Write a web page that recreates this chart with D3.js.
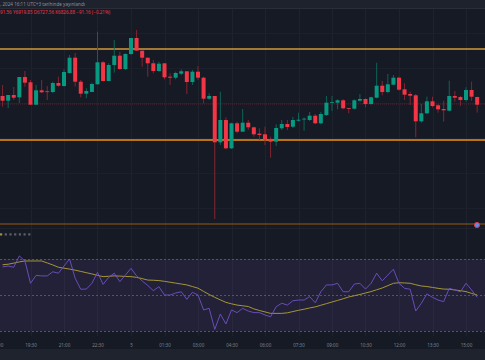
<!doctype html>
<html lang="tr">
<head>
<meta charset="utf-8">
<title>15 dk mum grafiği</title>
<script src="https://cdn.jsdelivr.net/npm/d3@7"></script>
<style>
	body { margin: 0; background: #161a25; }
	svg { display: block; font-family: "Noto Sans", Roboto, sans-serif; }
</style>
</head>
<body>
<div id="chart"></div>
<script>
// 15 minute candles, first one at 18:15
const opens = [
	6904.0, 6899.3, 6905.0, 6902.7, 6923.0, 6917.7, 6895.3, 6909.7, 6908.7, 6908.0,
	6917.0, 6914.0, 6927.0, 6942.3, 6918.3, 6906.3, 6908.0, 6915.7, 6937.7, 6919.0,
	6935.0, 6944.3, 6931.0, 6946.0, 6962.0, 6949.3, 6942.3, 6936.7, 6929.0, 6936.7,
	6923.3, 6922.3, 6926.3, 6928.7, 6918.0, 6928.3, 6922.3, 6901.3, 6904.0, 6857.7,
	6880.0, 6851.7, 6876.7, 6868.3, 6877.3, 6872.7, 6866.3, 6865.7, 6861.0, 6858.3,
	6871.7, 6876.0, 6873.3, 6879.3, 6880.7, 6880.0, 6884.3, 6876.7, 6885.0, 6897.3,
	6897.3, 6899.7, 6892.0, 6891.3, 6899.3, 6901.0, 6896.0, 6902.3, 6914.3, 6908.0,
	6915.3, 6922.3, 6910.7, 6906.0, 6904.7, 6878.7, 6886.7, 6898.7, 6894.7, 6891.0,
	6889.3, 6904.0, 6903.0, 6900.0, 6910.0, 6903.0
];
const highs = [
	6915.0, 6905.0, 6913.0, 6923.0, 6929.0, 6920.0, 6915.0, 6920.0, 6914.0, 6918.3,
	6923.3, 6930.7, 6945.0, 6947.0, 6920.0, 6911.7, 6917.3, 6968.3, 6939.0, 6936.7,
	6960.0, 6948.3, 6946.7, 6962.0, 6970.0, 6949.3, 6942.3, 6940.0, 6938.3, 6936.7,
	6926.7, 6928.3, 6930.7, 6928.7, 6930.0, 6934.0, 6923.3, 6906.7, 6904.0, 6908.3,
	6882.7, 6877.3, 6878.3, 6891.0, 6880.0, 6873.3, 6871.7, 6873.3, 6863.3, 6875.7,
	6880.0, 6880.0, 6883.0, 6887.3, 6882.7, 6888.0, 6886.0, 6888.0, 6904.0, 6904.0,
	6900.7, 6900.7, 6892.0, 6900.7, 6906.0, 6901.7, 6903.3, 6937.3, 6919.0, 6926.0,
	6925.0, 6923.3, 6916.7, 6908.3, 6906.0, 6896.0, 6903.3, 6903.3, 6896.0, 6899.3,
	6919.3, 6909.0, 6904.0, 6912.7, 6918.3, 6903.3
];
const lows = [
	6893.3, 6892.0, 6900.0, 6897.0, 6913.3, 6895.0, 6895.0, 6907.0, 6900.0, 6906.7,
	6913.3, 6913.3, 6926.7, 6913.3, 6902.7, 6901.7, 6908.0, 6915.7, 6918.3, 6919.0,
	6927.3, 6930.0, 6930.0, 6945.0, 6949.3, 6933.3, 6923.3, 6926.7, 6928.3, 6920.7,
	6915.0, 6920.7, 6925.0, 6906.0, 6915.0, 6920.0, 6896.7, 6900.0, 6781.0, 6855.0,
	6850.7, 6851.0, 6866.7, 6868.3, 6870.0, 6863.3, 6860.0, 6855.0, 6842.3, 6854.0,
	6870.0, 6870.0, 6872.0, 6878.3, 6869.3, 6879.0, 6876.0, 6875.7, 6884.0, 6889.0,
	6890.7, 6890.7, 6886.7, 6890.7, 6898.3, 6892.7, 6895.3, 6901.7, 6904.7, 6906.7,
	6914.7, 6909.3, 6900.0, 6895.0, 6862.7, 6877.3, 6886.0, 6892.7, 6887.3, 6878.3,
	6888.7, 6898.3, 6894.0, 6898.3, 6899.3, 6887.3
];
const closes = [
	6899.3, 6905.0, 6902.3, 6923.0, 6917.3, 6895.3, 6909.7, 6907.7, 6908.0, 6917.0,
	6914.3, 6928.0, 6942.3, 6918.3, 6906.3, 6909.0, 6916.0, 6937.7, 6919.0, 6935.0,
	6944.3, 6931.0, 6946.0, 6962.0, 6949.3, 6942.3, 6936.7, 6929.0, 6936.3, 6922.7,
	6922.3, 6927.0, 6928.7, 6918.0, 6928.3, 6922.3, 6901.3, 6904.0, 6857.7, 6880.0,
	6851.7, 6876.7, 6868.3, 6877.3, 6872.7, 6865.7, 6865.0, 6860.3, 6858.3, 6872.0,
	6876.0, 6873.0, 6880.0, 6880.3, 6881.3, 6884.3, 6876.7, 6886.0, 6897.3, 6898.0,
	6899.7, 6891.7, 6891.3, 6899.7, 6901.0, 6896.0, 6902.7, 6914.3, 6908.0, 6915.7,
	6922.3, 6910.3, 6905.3, 6904.3, 6878.7, 6886.7, 6898.7, 6894.0, 6890.7, 6889.7,
	6904.0, 6902.3, 6900.0, 6910.0, 6903.3, 6895.3
];
const rsiValues = [
	65.6, 66.1, 65.4, 71.7, 68.9, 56.5, 60.9, 60.6, 60.6, 62.9,
	62.1, 66.1, 70.0, 59.3, 53.2, 53.3, 56.5, 62.6, 55.9, 59.8,
	62.1, 57.4, 61.1, 64.8, 60.6, 57.8, 55.3, 52.4, 54.6, 50.0,
	50.0, 51.1, 51.8, 47.6, 51.5, 50.0, 41.7, 42.6, 30.9, 39.4,
	33.9, 41.7, 40.2, 42.6, 41.1, 40.2, 40.2, 38.9, 37.9, 43.5,
	45.4, 44.4, 46.8, 47.2, 47.2, 49.1, 45.7, 51.8, 55.6, 55.6,
	56.5, 51.8, 51.8, 56.1, 56.5, 53.3, 56.5, 62.1, 57.9, 61.1,
	64.3, 56.5, 53.7, 53.2, 41.1, 45.4, 50.6, 48.7, 47.2, 46.3,
	53.7, 52.8, 51.8, 56.5, 52.8, 48.7
];
const rsiMa = [
	66.8, 67.1, 67.7, 68.4, 68.9, 68.9, 68.9, 68.9, 67.8, 66.7,
	65.4, 64.9, 64.4, 63.8, 63.1, 62.4, 61.7, 60.9, 60.2, 60.4,
	60.6, 60.5, 60.3, 60.2, 59.8, 59.1, 58.3, 58.2, 58.0, 57.6,
	57.1, 56.6, 56.1, 55.6, 54.7, 53.8, 52.0, 50.3, 48.7, 47.3,
	45.9, 45.1, 44.4, 44.0, 43.6, 42.3, 41.4, 40.6, 39.8, 39.8,
	39.8, 40.1, 40.8, 41.5, 42.1, 42.8, 43.4, 44.3, 45.2, 46.1,
	47.0, 47.9, 48.9, 49.6, 50.3, 51.1, 51.9, 52.9, 53.9, 55.2,
	56.5, 56.8, 56.7, 56.5, 55.7, 55.0, 54.7, 54.2, 53.7, 53.3,
	53.2, 52.8, 52.4, 51.9, 50.9, 50.0
];
const tickLabels = ["18:00", "19:30", "21:00", "22:30", "5", "01:30", "03:00",
	"04:30", "06:00", "07:30", "09:00", "10:30", "12:00", "13:30", "15:00"];
const orangeLevels = [6951, 6860];
const lowLevel = 6776;
const prevClose = 6896;
const gridPrices = [6967, 6932, 6897, 6862, 6827, 6792];
const rsiBands = [70, 50, 30];

var W = 485, H = 360;
var mainTop = 8, mainBottom = 228, axisTop = 336, footerTop = 349;

var svg = d3.select("#chart").append("svg").attr("width", W).attr("height", H);
svg.append("rect").attr("width", W).attr("height", H).attr("fill", "#161a25");

var t0 = new Date(2024, 6, 4, 18, 0);
var min15 = 15 * 60 * 1000;
var data = opens.map((o, i) => ({
	t: new Date(t0.getTime() + (i + 1) * min15),
	o: o, h: highs[i], l: lows[i], c: closes[i],
	rsi: rsiValues[i], ma: rsiMa[i]
}));
var ticks = tickLabels.map((s, k) => new Date(t0.getTime() + k * 6 * min15));

var x = d3.scaleTime()
	.domain([t0, new Date(2024, 6, 5, 15, 0)])
	.range([-3, 466]);
var y = d3.scaleLinear().domain([6768, 7000]).range([232, 0]);
var yr = d3.scaleLinear().domain([30, 70]).range([331, 259]);

// top strip
svg.append("rect").attr("width", W).attr("height", mainTop).attr("fill", "#1e222d");
svg.append("line").attr("x1", 0).attr("x2", W).attr("y1", mainTop + 0.5).attr("y2", mainTop + 0.5)
	.attr("stroke", "#2a2e39");
svg.append("text").attr("x", 0).attr("y", 6).attr("font-size", 4.6).attr("fill", "#8a8e99")
	.text(", 2024 16:11 UTC+3 tarihinde yayınlandı");

// vertical grid over both panes
svg.append("g").selectAll("line").data(ticks).enter().append("line")
	.attr("x1", d => Math.round(x(d)) + 0.5).attr("x2", d => Math.round(x(d)) + 0.5)
	.attr("y1", mainTop + 1).attr("y2", axisTop)
	.attr("stroke", "#1e222d");
svg.append("g").selectAll("line").data(gridPrices).enter().append("line")
	.attr("x1", 0).attr("x2", W)
	.attr("y1", d => Math.round(y(d)) + 0.5).attr("y2", d => Math.round(y(d)) + 0.5)
	.attr("stroke", "#1c202b");

// main pane
svg.append("clipPath").attr("id", "mainClip").append("rect")
	.attr("x", 0).attr("y", mainTop + 1).attr("width", W).attr("height", mainBottom - mainTop - 1);
var main = svg.append("g").attr("clip-path", "url(#mainClip)");

main.append("line").attr("x1", 0).attr("x2", W)
	.attr("y1", y(prevClose)).attr("y2", y(prevClose))
	.attr("stroke", "#4e2430").attr("stroke-width", 1).attr("stroke-dasharray", "1,1");

main.selectAll(".level").data(orangeLevels).enter().append("line")
	.attr("class", "level")
	.attr("x1", 0).attr("x2", W)
	.attr("y1", d => y(d)).attr("y2", d => y(d))
	.attr("stroke", (d, i) => i === 0 ? "#d19a3a" : "#f0900f")
	.attr("stroke-width", 1.4);
main.append("line").attr("x1", 0).attr("x2", W)
	.attr("y1", y(lowLevel)).attr("y2", y(lowLevel))
	.attr("stroke", "#9a5a12").attr("stroke-width", 1.2);

var bodyW = 4;
var up = d => d.c >= d.o;
main.selectAll(".wick").data(data).enter().append("line")
	.attr("class", "wick")
	.attr("x1", d => x(d.t)).attr("x2", d => x(d.t))
	.attr("y1", d => y(d.h)).attr("y2", d => y(d.l))
	.attr("stroke", d => up(d) ? "#0b6b5c" : "#8f2634")
	.attr("stroke-width", 0.9);
main.selectAll(".body").data(data).enter().append("rect")
	.attr("class", "body")
	.attr("x", d => x(d.t) - bodyW / 2)
	.attr("y", d => y(Math.max(d.o, d.c)))
	.attr("width", bodyW)
	.attr("height", d => Math.max(0.8, Math.abs(y(d.o) - y(d.c))))
	.attr("fill", d => up(d) ? "#089981" : "#f23645");

// OHLC legend
svg.append("text").attr("x", 0).attr("y", 14.3).attr("font-size", 4.6).attr("fill", "#f23645")
	.text("91.56  Y6919.85  D6727.56  K6826.88  −91.16 (−0.21%)");

// alert marker
svg.append("circle").attr("cx", 477).attr("cy", y(lowLevel) + 1).attr("r", 2.6)
	.attr("fill", "#5b8def").attr("stroke", "#d83a4a").attr("stroke-width", 1);

// RSI pane
svg.append("line").attr("x1", 0).attr("x2", W).attr("y1", mainBottom + 0.5).attr("y2", mainBottom + 0.5)
	.attr("stroke", "#1f2330");
svg.append("rect").attr("x", 0).attr("width", W)
	.attr("y", yr(70)).attr("height", yr(30) - yr(70))
	.attr("fill", "rgba(126,87,194,0.12)");
svg.append("g").selectAll("line").data(rsiBands).enter().append("line")
	.attr("x1", 0).attr("x2", W)
	.attr("y1", d => yr(d) + 0.5).attr("y2", d => yr(d) + 0.5)
	.attr("stroke", "#56526b").attr("stroke-dasharray", "2,2");

svg.append("path").datum(data)
	.attr("fill", "none").attr("stroke", "#b3a236").attr("stroke-width", 0.9)
	.attr("d", d3.line().x(d => x(d.t)).y(d => yr(d.ma)));
svg.append("path").datum(data)
	.attr("fill", "none").attr("stroke", "#6f52c4").attr("stroke-width", 0.9)
	.attr("d", d3.line().x(d => x(d.t)).y(d => yr(d.rsi)));

// indicator legend buttons
var dots = d3.range(7);
svg.append("g").selectAll("rect").data(dots).enter().append("rect")
	.attr("x", d => d * 4.7).attr("y", 233.3).attr("width", 2.2).attr("height", 2.2)
	.attr("fill", (d, i) => i === 0 ? "#9c9340" : "#5d606b");

// time axis
svg.append("rect").attr("x", 0).attr("y", footerTop).attr("width", W).attr("height", H - footerTop)
	.attr("fill", "#1f232e");
var xAxis = svg.append("g").attr("transform", "translate(0," + 341 + ")")
	.call(d3.axisBottom(x).tickValues(ticks).tickSize(0)
		.tickFormat((d, i) => tickLabels[i]));
xAxis.select(".domain").remove();
xAxis.selectAll("text").attr("fill", "#7c808b").attr("font-size", 4.6)
	.attr("font-family", "Noto Sans, Roboto, sans-serif");
</script>
</body>
</html>
